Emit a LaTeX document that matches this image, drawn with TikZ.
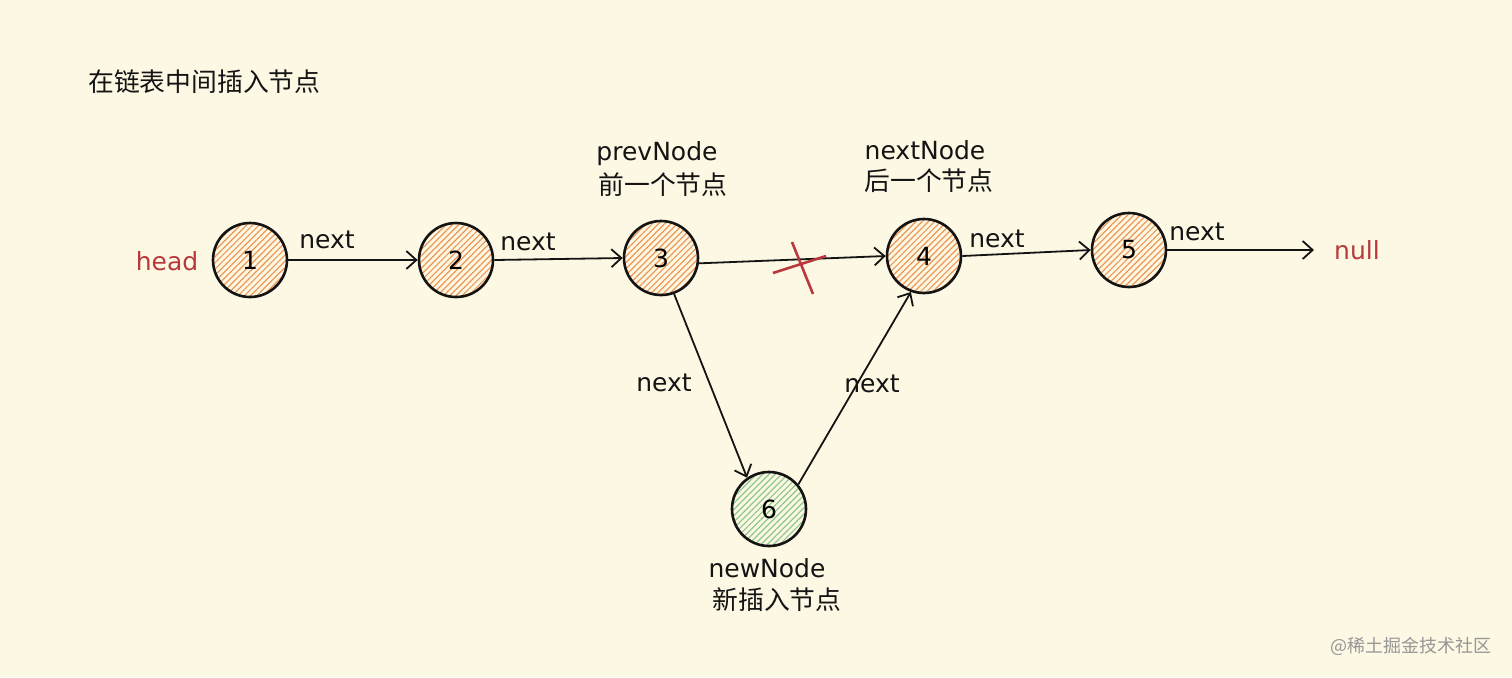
\documentclass[tikz,border=0pt]{standalone}
\usepackage{fontspec}
\setmainfont{DejaVu Sans}
\newfontfamily\cjk{Noto Sans CJK SC}
\usetikzlibrary{arrows.meta,patterns.meta}
\definecolor{bg}{RGB}{253,248,227}
\definecolor{hatchor}{RGB}{238,150,85}
\definecolor{hatchgr}{RGB}{140,200,140}
\definecolor{redtxt}{RGB}{184,56,59}
\definecolor{ink}{RGB}{20,20,20}
\definecolor{wm}{RGB}{150,150,150}
\tikzset{
  lnode/.style={circle,draw=ink,line width=1.3pt,minimum size=37pt,inner sep=0pt,
    preaction={fill=bg},
    pattern={Lines[angle=45,distance=2.2pt,line width=0.6pt]},pattern color=#1,
    font=\fontsize{12.5}{15}\selectfont},
  lnode/.default=hatchor,
  link/.style={draw=ink,line width=0.9pt,-{Straight Barb[length=5pt,width=9pt,line width=0.9pt]}},
  lbl/.style={font=\fontsize{12.5}{14}\selectfont,text=ink,inner sep=0pt},
  cn/.style={font=\cjk\fontsize{12.9}{15}\selectfont,text=ink,inner sep=0pt},
  redl/.style={font=\fontsize{12.5}{14}\selectfont,text=redtxt,inner sep=0pt},
  cross/.style={draw=redtxt,line width=1.3pt}
}
\begin{document}
\begin{tikzpicture}[x=0.5pt,y=-0.5pt]
\fill[bg] (0,0) rectangle (1512,677);
\useasboundingbox (0,0) rectangle (1512,677);
\node[cn,anchor=west] (title) at (88,82) {在链表中间插入节点};
\node[lnode] (n1) at (250,260) {1};
\node[lnode] (n2) at (456,260) {2};
\node[lnode] (n3) at (661,258) {3};
\node[lnode] (n4) at (924,256) {4};
\node[lnode] (n5) at (1129,250) {5};
\node[lnode=hatchgr] (n6) at (769,509) {6};
\node[redl] (head) at (167,261) {head};
\node[redl] (null) at (1357,250) {null};
\coordinate (nullpt) at (1314,250);
\draw[link] (n1.east) -- (n2.west);
\draw[link] (n2.east) -- (n3.west);
\draw[link] (n3.-8) -- (n4.west);
\draw[link] (n4.east) -- (n5.west);
\draw[link] (n5.east) -- (nullpt);
\draw[link] (n3.-70) -- (n6.125);
\draw[link] (n6.40) -- (n4.-110);
\coordinate (c1a) at (773,273); \coordinate (c1b) at (826,256);
\coordinate (c2a) at (792,242); \coordinate (c2b) at (813,294);
\draw[cross] (c1a) -- (c1b);
\draw[cross] (c2a) -- (c2b);
\node[lbl] (x12) at (327,240) {next};
\node[lbl] (x23) at (528,242) {next};
\node[lbl] (x45) at (997,239) {next};
\node[lbl] (x5n) at (1197,232) {next};
\node[lbl] (x36) at (664,383) {next};
\node[lbl] (x64) at (872,384) {next};
\node[lbl] (prev) at (657,154) {prevNode};
\node[cn] (prevc) at (663,185) {前一个节点};
\node[lbl] (nxt) at (925,150) {nextNode};
\node[cn] (nxtc) at (929,181) {后一个节点};
\node[lbl] (newn) at (767,568) {newNode};
\node[cn] (newc) at (777,600) {新插入节点};
\node[font=\cjk\fontsize{9}{11}\selectfont,text=wm,anchor=east,inner sep=0pt] (wmk) at (1492,646) {@稀土掘金技术社区};
\end{tikzpicture}
\end{document}
